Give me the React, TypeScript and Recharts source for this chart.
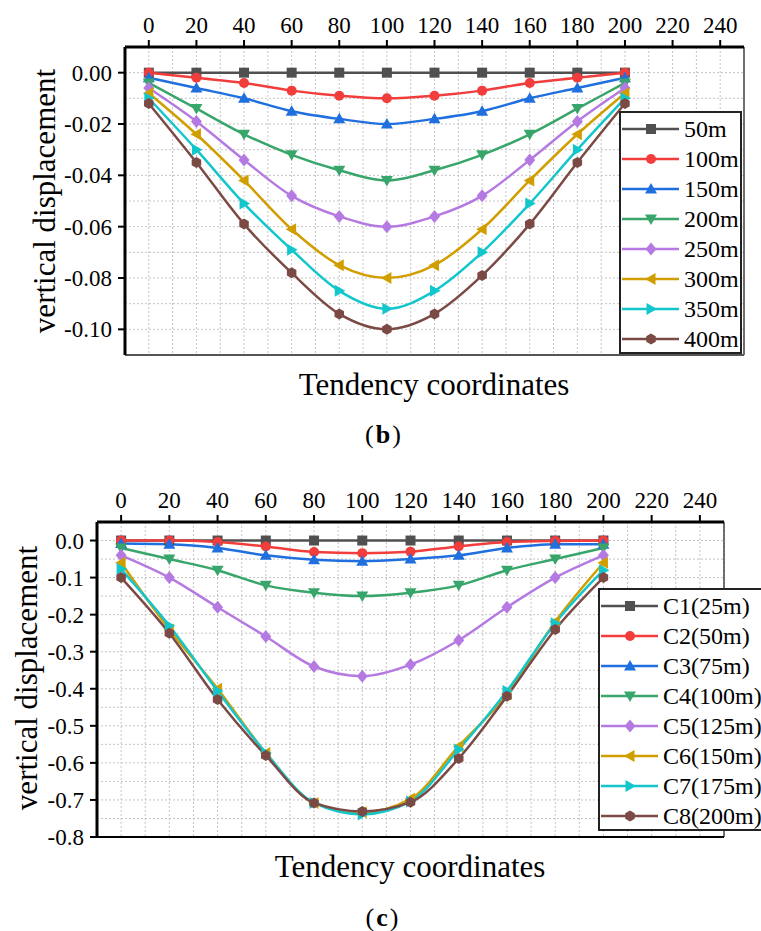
import React from "react";
import { LineChart, Line, XAxis, YAxis, CartesianGrid, ReferenceLine } from "recharts";

// x positions along the section
const X_POS = [0, 20, 40, 60, 80, 100, 120, 140, 160, 180, 200];
const X_TICKS = [0, 20, 40, 60, 80, 100, 120, 140, 160, 180, 200, 220, 240];
const X_GRID = [-10, 0, 10, 20, 30, 40, 50, 60, 70, 80, 90, 100, 110, 120, 130, 140, 150, 160, 170, 180, 190, 200, 210, 220, 230, 240, 250];

// (b) advance distance
const B_NAMES = ["50m", "100m", "150m", "200m", "250m", "300m", "350m", "400m"];
const b50 = [0, 0, 0, 0, 0, 0, 0, 0, 0, 0, 0];
const b100 = [0, -0.002, -0.004, -0.007, -0.009, -0.01, -0.009, -0.007, -0.004, -0.002, 0];
const b150 = [-0.002, -0.006, -0.01, -0.015, -0.018, -0.02, -0.018, -0.015, -0.01, -0.006, -0.002];
const b200 = [-0.004, -0.014, -0.024, -0.032, -0.038, -0.042, -0.038, -0.032, -0.024, -0.014, -0.004];
const b250 = [-0.006, -0.019, -0.034, -0.048, -0.056, -0.06, -0.056, -0.048, -0.034, -0.019, -0.006];
const b300 = [-0.008, -0.024, -0.042, -0.061, -0.075, -0.08, -0.075, -0.061, -0.042, -0.024, -0.008];
const b350 = [-0.01, -0.03, -0.051, -0.069, -0.085, -0.092, -0.085, -0.07, -0.051, -0.03, -0.01];
const b400 = [-0.012, -0.035, -0.059, -0.078, -0.094, -0.1, -0.094, -0.079, -0.059, -0.035, -0.012];
const B_Y_TICKS = [0, -0.02, -0.04, -0.06, -0.08, -0.1];
const B_Y_GRID = [0.01, 0, -0.01, -0.02, -0.03, -0.04, -0.05, -0.06, -0.07, -0.08, -0.09, -0.1, -0.11];

// (c) cover depth
const C_NAMES = ["C1(25m)", "C2(50m)", "C3(75m)", "C4(100m)", "C5(125m)", "C6(150m)", "C7(175m)", "C8(200m)"];
const c1 = [0, 0, 0, 0, 0, 0, 0, 0, 0, 0, 0];
const c2 = [0, 0, -0.004, -0.016, -0.031, -0.034, -0.03, -0.016, -0.004, -0.001, 0];
const c3 = [-0.008, -0.01, -0.02, -0.04, -0.052, -0.056, -0.05, -0.04, -0.02, -0.01, -0.01];
const c4 = [-0.02, -0.05, -0.08, -0.121, -0.141, -0.15, -0.141, -0.121, -0.08, -0.05, -0.02];
const c5 = [-0.04, -0.1, -0.18, -0.259, -0.34, -0.366, -0.335, -0.269, -0.18, -0.1, -0.04];
const c6 = [-0.06, -0.24, -0.4, -0.573, -0.708, -0.733, -0.697, -0.555, -0.415, -0.219, -0.06];
const c7 = [-0.077, -0.23, -0.406, -0.573, -0.708, -0.739, -0.704, -0.564, -0.406, -0.223, -0.08];
const c8 = [-0.1, -0.25, -0.429, -0.58, -0.708, -0.731, -0.706, -0.588, -0.42, -0.24, -0.1];
const C_Y_TICKS = [0, -0.1, -0.2, -0.3, -0.4, -0.5, -0.6, -0.7, -0.8];
const C_Y_GRID = [0.05, 0, -0.05, -0.1, -0.15, -0.2, -0.25, -0.3, -0.35, -0.4, -0.45, -0.5, -0.55, -0.6, -0.65, -0.7, -0.75, -0.8];

const COLORS = ["#505050", "#f23d3d", "#1f6fdf", "#38a56a", "#b57ae2", "#d19e00", "#13c6cc", "#7c4a45"];
const SHAPES = ["square", "circle", "up", "down", "diamond", "left", "right", "hex"];

const FONT = "Liberation Serif, Tinos, DejaVu Serif, serif";

const buildRows = (series: number[][]) =>
  X_POS.map((x, i) => {
    const row: any = { x };
    series.forEach((s, k) => (row[`s${k}`] = s[i]));
    return row;
  });

const bData = buildRows([b50, b100, b150, b200, b250, b300, b350, b400]);
const cData = buildRows([c1, c2, c3, c4, c5, c6, c7, c8]);

function Marker({ cx, cy, shape, color }: { cx: number; cy: number; shape: string; color: string }) {
  if (cx == null || cy == null) return null;
  const s = 5;
  switch (shape) {
    case "square":
      return <rect x={cx - s} y={cy - s} width={2 * s} height={2 * s} fill={color} />;
    case "circle":
      return <circle cx={cx} cy={cy} r={s} fill={color} />;
    case "up":
      return <polygon points={`${cx},${cy - 6} ${cx - 6},${cy + 4.5} ${cx + 6},${cy + 4.5}`} fill={color} />;
    case "down":
      return <polygon points={`${cx},${cy + 6} ${cx - 6},${cy - 4.5} ${cx + 6},${cy - 4.5}`} fill={color} />;
    case "diamond":
      return <polygon points={`${cx},${cy - 6.5} ${cx + 5.5},${cy} ${cx},${cy + 6.5} ${cx - 5.5},${cy}`} fill={color} />;
    case "left":
      return <polygon points={`${cx - 6},${cy} ${cx + 4.5},${cy - 6} ${cx + 4.5},${cy + 6}`} fill={color} />;
    case "right":
      return <polygon points={`${cx + 6},${cy} ${cx - 4.5},${cy - 6} ${cx - 4.5},${cy + 6}`} fill={color} />;
    default: {
      const pts = [0, 1, 2, 3, 4, 5]
        .map((k) => {
          const a = (Math.PI / 3) * k + Math.PI / 6;
          return `${cx + 5.5 * Math.cos(a)},${cy + 5.5 * Math.sin(a)}`;
        })
        .join(" ");
      return <polygon points={pts} fill={color} />;
    }
  }
}

function LegendBox({ names, left, top, width }: { names: string[]; left: number; top: number; width: number }) {
  return (
    <div
      style={{
        position: "absolute",
        left,
        top,
        width,
        height: names.length * 30 + 3,
        border: "2px solid #222",
        background: "#fff",
        boxSizing: "border-box",
      }}
    >
      {names.map((n, i) => (
        <div key={n} style={{ position: "absolute", left: 0, top: 1 + i * 30, height: 30, display: "flex", alignItems: "center" }}>
          <svg width={62} height={30} style={{ display: "block" }}>
            <line x1={1} y1={15} x2={58} y2={15} stroke={COLORS[i]} strokeWidth={2.5} />
            <Marker cx={30} cy={15} shape={SHAPES[i]} color={COLORS[i]} />
          </svg>
          <span style={{ fontFamily: FONT, fontSize: 24, lineHeight: "30px", color: "#000", whiteSpace: "nowrap", marginLeft: 1 }}>{n}</span>
        </div>
      ))}
    </div>
  );
}

interface PanelProps {
  top: number;
  height: number;
  margin: { top: number; right: number; bottom: number; left: number };
  data: any[];
  names: string[];
  yDomain: [number, number];
  yTicks: number[];
  yGrid: number[];
  digits: number;
  bottomStroke: string;
  legend: { left: number; top: number; width: number };
  title: { x: number; y: number };
  yLabel: { x: number; y: number };
  caption: { x: number; y: number; letter: string };
}

function Panel(p: PanelProps) {
  const tickStyle = { fill: "#000", fontSize: 23, fontFamily: FONT };
  return (
    <div style={{ position: "absolute", left: 0, top: p.top, width: 761, height: p.height, fontFamily: FONT }}>
      <LineChart width={761} height={p.height} data={p.data} margin={p.margin} style={{ fontFamily: FONT }}>
        <CartesianGrid
          stroke="#c4c4c4"
          strokeDasharray="2 2"
          horizontalValues={p.yGrid}
          verticalValues={X_GRID}
        />
        <XAxis
          dataKey="x"
          type="number"
          orientation="top"
          domain={[-10, 250]}
          ticks={X_TICKS}
          interval={0}
          allowDataOverflow
          height={30}
          tick={tickStyle}
          tickSize={7}
          tickMargin={7}
          axisLine={{ stroke: "#000", strokeWidth: 3 }}
          tickLine={{ stroke: "#000", strokeWidth: 2 }}
        />
        <YAxis
          type="number"
          domain={p.yDomain}
          ticks={p.yTicks}
          interval={0}
          allowDataOverflow
          width={60}
          tick={tickStyle}
          tickSize={7}
          tickMargin={6}
          tickFormatter={(v: number) => (Math.abs(v) < 1e-9 ? 0 : v).toFixed(p.digits)}
          axisLine={{ stroke: "#000", strokeWidth: 3 }}
          tickLine={{ stroke: "#000", strokeWidth: 2 }}
        />
        <ReferenceLine x={250} stroke="#444" strokeWidth={1.5} />
        <ReferenceLine y={p.yDomain[0]} stroke={p.bottomStroke} strokeWidth={2} />
        {p.names.map((n, i) => (
          <Line
            key={n}
            type="monotone"
            dataKey={`s${i}`}
            name={n}
            stroke={COLORS[i]}
            strokeWidth={2.5}
            isAnimationActive={false}
            dot={(d: any) => (
              <Marker key={`${n}-${d.index}`} cx={d.cx} cy={d.cy} shape={SHAPES[i]} color={COLORS[i]} />
            )}
            activeDot={false}
          />
        ))}
      </LineChart>
      <LegendBox names={p.names} left={p.legend.left} top={p.legend.top} width={p.legend.width} />
      <div
        style={{
          position: "absolute",
          left: p.title.x,
          top: p.title.y,
          transform: "translate(-50%, -50%)",
          fontFamily: FONT,
          fontSize: 31,
          lineHeight: 1.1,
          whiteSpace: "nowrap",
        }}
      >
        Tendency coordinates
      </div>
      <div
        style={{
          position: "absolute",
          left: p.yLabel.x,
          top: p.yLabel.y,
          transform: "translate(-50%, -50%) rotate(-90deg)",
          fontFamily: FONT,
          fontSize: 31,
          lineHeight: 1.1,
          whiteSpace: "nowrap",
        }}
      >
        vertical displacement
      </div>
      <div
        style={{
          position: "absolute",
          left: p.caption.x,
          top: p.caption.y,
          transform: "translate(-50%, -50%)",
          fontFamily: FONT,
          fontSize: 26,
          lineHeight: 1,
          letterSpacing: 2,
          whiteSpace: "nowrap",
        }}
      >
        (<b>{p.caption.letter}</b>)
      </div>
    </div>
  );
}

export default function App() {
  return (
    <div style={{ position: "absolute", left: 0, top: 0, width: 761, height: 931, overflow: "hidden", background: "#fff", fontFamily: FONT }}>
      <Panel
        top={0}
        height={370}
        margin={{ top: 17, right: 17, bottom: 15, left: 65 }}
        data={bData}
        names={B_NAMES}
        yDomain={[-0.11, 0.01]}
        yTicks={B_Y_TICKS}
        yGrid={B_Y_GRID}
        digits={2}
        bottomStroke="#555"
        legend={{ left: 619, top: 111, width: 123 }}
        title={{ x: 434, y: 385 }}
        yLabel={{ x: 45, y: 201 }}
        caption={{ x: 384, y: 435, letter: "b" }}
      />
      <Panel
        top={460}
        height={400}
        margin={{ top: 32, right: 37, bottom: 23, left: 37 }}
        data={cData}
        names={C_NAMES}
        yDomain={[-0.8, 0.05]}
        yTicks={C_Y_TICKS}
        yGrid={C_Y_GRID}
        digits={1}
        bottomStroke="#000"
        legend={{ left: 598, top: 128, width: 175 }}
        title={{ x: 410, y: 407 }}
        yLabel={{ x: 27, y: 218 }}
        caption={{ x: 383, y: 458, letter: "c" }}
      />
    </div>
  );
}
